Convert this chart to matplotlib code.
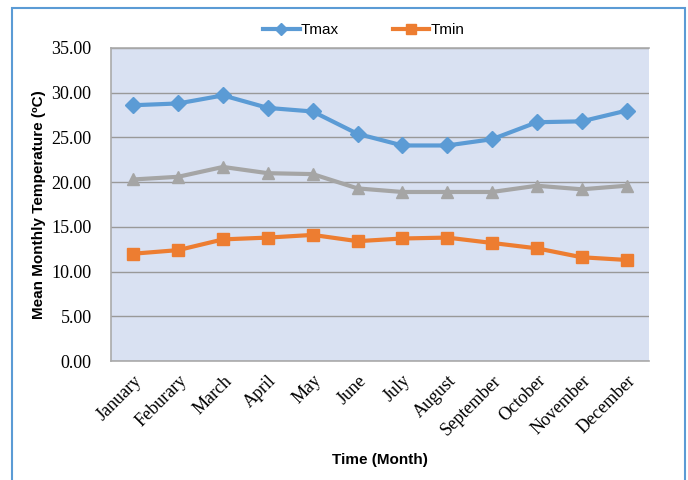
import matplotlib.pyplot as plt
from matplotlib.patches import Rectangle

months = ['January', 'Feburary', 'March', 'April', 'May', 'June', 'July',
          'August', 'September', 'October', 'November', 'December']
tmax = [28.6, 28.8, 29.7, 28.3, 27.9, 25.4, 24.1, 24.1, 24.8, 26.7, 26.8, 28.0]
tmean = [20.3, 20.6, 21.7, 21.0, 20.9, 19.3, 18.9, 18.9, 18.9, 19.6, 19.2, 19.6]
tmin = [12.0, 12.4, 13.6, 13.8, 14.1, 13.4, 13.7, 13.8, 13.2, 12.6, 11.6, 11.3]
yticks = [0, 5, 10, 15, 20, 25, 30, 35]

fig = plt.figure(figsize=(6.88, 4.8), dpi=100)
ax = fig.add_axes([0.1613, 0.2479, 0.7820, 0.6521])
ax.set_facecolor('#D9E1F2')

x = list(range(len(months)))
ax.plot(x, tmax, color='#5B9BD5', lw=3, marker='D', ms=8, label='Tmax', zorder=3)
ax.plot(x, tmin, color='#ED7D31', lw=3, marker='s', ms=9, label='Tmin', zorder=3)
ax.plot(x, tmean, color='#A5A5A5', lw=3, marker='^', ms=9, zorder=3)

ax.set_xlim(-0.5, len(months) - 0.5)
ax.set_ylim(0, 35)
ax.set_yticks(yticks)
ax.set_yticklabels([f'{v:.2f}' for v in yticks], family='Liberation Serif', fontsize=13)
ax.set_xticks(x)
ax.set_xticklabels(months, rotation=45, ha='right', rotation_mode='anchor',
                   family='Liberation Serif', fontsize=13)
ax.tick_params(length=0)
ax.tick_params(axis='y', pad=14)
ax.tick_params(axis='x', pad=8)
ax.grid(axis='y', color='#999999', lw=1)
ax.set_axisbelow(True)
ax.spines['right'].set_visible(False)
for s in ['top', 'left', 'bottom']:
    ax.spines[s].set_color('#AAAAAA')
    ax.spines[s].set_linewidth(1.2)

ax.set_ylabel('Mean Monthly Temperature (ºC)', family='Liberation Sans',
              fontweight='bold', fontsize=11, labelpad=4)
ax.set_xlabel('Time (Month)', family='Liberation Sans', fontweight='bold',
              fontsize=11, labelpad=10)

ax.legend(loc='lower center', bbox_to_anchor=(0.47, 1.0), ncol=2, frameon=False,
          prop={'family': 'Liberation Sans', 'size': 11}, columnspacing=3.5,
          handlelength=2.4, handletextpad=0.1, borderaxespad=0.3, markerscale=0.8)

fig.patches.append(Rectangle((0.0174, -0.05), 0.978, 1.0333, transform=fig.transFigure,
                             fill=False, edgecolor='#5B9BD5', lw=1.5))

fig.savefig('out.png', dpi=100)
